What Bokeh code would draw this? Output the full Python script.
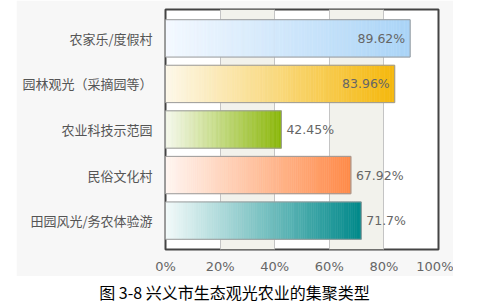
from bokeh.plotting import figure
from bokeh.models import Range1d, FactorRange, FixedTicker, Spacer, ColumnDataSource
from bokeh.layouts import column, row
from bokeh.core.properties import value
from bokeh.embed import file_html
from bokeh.resources import INLINE

# ---- data ----
categories = ["农家乐/度假村", "园林观光（采摘园等）", "农业科技示范园", "民俗文化村", "田园风光/务农体验游"]
values = [89.62, 83.96, 42.45, 67.92, 71.7]
x_ticks = [0, 20, 40, 60, 80, 100]
x_tick_labels = ["0%", "20%", "40%", "60%", "80%", "100%"]
caption = "图 3-8 兴义市生态观光农业的集聚类型"

# ---- styles ----
start_colors = ["#f4f9ff", "#fdf8ea", "#f6f9ee", "#fff6f2", "#f3fafa"]
end_colors = ["#aad4f7", "#f5b80c", "#8ab708", "#ff8a48", "#00898a"]


def hex2rgb(h):
    h = h.lstrip("#")
    return tuple(int(h[i:i + 2], 16) for i in (0, 2, 4))


def mix(c1, c2, t):
    a, b = hex2rgb(c1), hex2rgb(c2)
    return "#%02x%02x%02x" % tuple(int(round(a[i] + (b[i] - a[i]) * t)) for i in range(3))


p = figure(width=437, height=276, output_backend="svg", toolbar_location=None,
           x_range=Range1d(0, 100),
           y_range=FactorRange(*list(reversed(categories)), range_padding=0.134,
                               range_padding_units="absolute"),
           min_border_left=149, min_border_right=15, min_border_top=9, min_border_bottom=18)
p.border_fill_color = "#f7f7f7"
p.background_fill_color = "#ffffff"
p.outline_line_color = "#444444"
p.outline_line_width = 2

# gradient segments
N = 90
seg = dict(y=[], left=[], right=[], color=[])
for cat, v, c0, c1 in zip(categories, values, start_colors, end_colors):
    for k in range(N):
        seg["y"].append(cat)
        seg["left"].append(v * k / N)
        seg["right"].append(v * (k + 1) / N)
        seg["color"].append(mix(c0, c1, (k + 0.5) / N))
p.hbar(y="y", left="left", right="right", height=0.82, fill_color="color",
       line_color="color", line_width=0.6, source=ColumnDataSource(seg))

# bar outlines
p.hbar(y=categories, left=0, right=values, height=0.82, fill_color=None,
       line_color="#9a9a9a", line_width=1)

# value labels
labels = [f"{v}%" for v in values]
inside = [v > 80 for v in values]
p.text(x=values, y=categories, text=labels,
       x_offset=[-5 if i else 5 for i in inside],
       text_align=["right" if i else "left" for i in inside],
       text_baseline="middle", text_font=value("DejaVu Sans"),
       text_font_size="12.5px", text_color="#666666")

# axes
p.xaxis.ticker = FixedTicker(ticks=x_ticks)
p.xaxis.major_label_overrides = {t: l for t, l in zip(x_ticks, x_tick_labels)}
p.xaxis.axis_line_color = None
p.xaxis.major_tick_line_color = None
p.xaxis.minor_tick_line_color = None
p.xaxis.major_label_standoff = 3
p.xaxis.major_label_text_font = "DejaVu Sans"
p.xaxis.major_label_text_font_size = "13px"
p.xaxis.major_label_text_color = "#666666"

p.yaxis.axis_line_color = None
p.yaxis.major_tick_line_color = None
p.yaxis.major_label_standoff = 7
p.yaxis.major_label_text_font = "Noto Sans CJK SC"
p.yaxis.major_label_text_font_size = "13px"
p.yaxis.major_label_text_color = "#555555"

p.xgrid.ticker = FixedTicker(ticks=x_ticks)
p.xgrid.grid_line_color = "#c4c4c4"
p.xgrid.band_fill_color = "#f2f2ec"
p.xgrid.band_fill_alpha = 1
p.ygrid.grid_line_color = None

# caption
cap = figure(width=485, height=32, output_backend="svg", toolbar_location=None,
             x_range=Range1d(0, 485), y_range=Range1d(0, 32),
             min_border=0, min_border_left=0, min_border_right=0,
             min_border_top=0, min_border_bottom=0)
cap.axis.visible = False
cap.grid.visible = False
cap.outline_line_color = None
cap.background_fill_color = "#ffffff"
cap.border_fill_color = "#ffffff"
cap.text(x=[234], y=[17], text=[caption], text_align="center", text_baseline="middle",
         text_font=value("Noto Sans CJK SC"), text_font_size="16px", text_color="#000000")

layout = column(row(Spacer(width=16, height=276), p), cap, spacing=0)
open("out.html", "w").write(file_html(layout, INLINE))
